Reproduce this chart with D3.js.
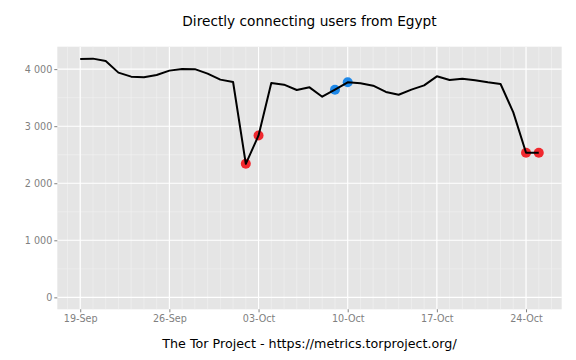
<!DOCTYPE html>
<html><head><meta charset="utf-8">
<script src="https://cdn.jsdelivr.net/npm/d3@7"></script>
<style>body{margin:0;background:#fff}svg{display:block}text{font-family:"DejaVu Sans",sans-serif}</style>
</head><body><div id="chart"></div>
<script>
const startDate = "2013-09-19";
const users = [4179,4184,4144,3939,3868,3856,3898,3974,4003,4000,3921,3816,3775,2341,2838,3758,3728,3634,3681,3517,3640,3769,3751,3710,3600,3552,3640,3716,3874,3810,3833,3804,3769,3740,3242,2534,2534];
const downturnDays = [13,14,35,36];
const upturnDays = [20,21];
const yTicks = [0,1000,2000,3000,4000];
const xTickDates = ["2013-09-19","2013-09-26","2013-10-03","2013-10-10","2013-10-17","2013-10-24"];
const xTickLabels = ["19-Sep","26-Sep","03-Oct","10-Oct","17-Oct","24-Oct"];
const title = "Directly connecting users from Egypt";
const caption = "The Tor Project - https://metrics.torproject.org/";

const W=576,H=360, L=57.3, R=561.7, T=46.7, B=309.3;
const parse = d3.utcParse("%Y-%m-%d");
const d0 = parse(startDate);
const dates = users.map((v,i)=>d3.utcDay.offset(d0,i));
const data = users.map((v,i)=>({date:dates[i],v}));
const span = dates[dates.length-1]-dates[0];
const x = d3.scaleUtc().domain([new Date(+dates[0]-span*0.05), new Date(+dates[dates.length-1]+span*0.05)]).range([L,R]);
const ymax = d3.max(users);
const y = d3.scaleLinear().domain([-ymax*0.05, ymax*1.05]).range([B,T]);

const svg = d3.select("#chart").append("svg").attr("width",W).attr("height",H);
svg.append("rect").attr("x",L).attr("y",T).attr("width",R-L).attr("height",B-T).attr("fill","#e5e5e5");
const g = svg.append("g");
// minor grid
const minorX = d3.utcDay.range(d3.utcDay.ceil(x.domain()[0]), x.domain()[1]);
g.selectAll(".mx").data(minorX).join("line").attr("x1",d=>x(d)).attr("x2",d=>x(d)).attr("y1",T).attr("y2",B).attr("stroke","#f2f2f2").attr("stroke-width",0.6);
const minorY = d3.range(-500, 4500, 500).filter(v=>v%1000!==0 && v>y.domain()[0] && v<y.domain()[1]);
g.selectAll(".my").data(minorY).join("line").attr("x1",L).attr("x2",R).attr("y1",d=>y(d)).attr("y2",d=>y(d)).attr("stroke","#f2f2f2").attr("stroke-width",0.6);
// major grid
const xt = xTickDates.map(parse);
g.selectAll(".gx").data(xt).join("line").attr("x1",d=>x(d)).attr("x2",d=>x(d)).attr("y1",T).attr("y2",B).attr("stroke","#fff").attr("stroke-width",1.1);
g.selectAll(".gy").data(yTicks).join("line").attr("x1",L).attr("x2",R).attr("y1",d=>y(d)).attr("y2",d=>y(d)).attr("stroke","#fff").attr("stroke-width",1.1);

// axes
const fmt = d => d3.format(",")(d).replace(/,/g," ");
const yAxis = svg.append("g").attr("transform",`translate(${L},0)`).call(d3.axisLeft(y).tickValues(yTicks).tickFormat(fmt).tickSize(3).tickPadding(2));
const xAxis = svg.append("g").attr("transform",`translate(0,${B})`).call(d3.axisBottom(x).tickValues(xt).tickFormat((d,i)=>xTickLabels[i]).tickSize(3).tickPadding(3));
[yAxis,xAxis].forEach(a=>{a.select(".domain").remove();a.selectAll("line").attr("stroke","#7f7f7f");a.selectAll("text").attr("fill","#7f7f7f").attr("font-size",9.6).attr("font-family","DejaVu Sans");});

// points then line on top
g.selectAll(".dn").data(downturnDays).join("circle").attr("cx",i=>x(dates[i])).attr("cy",i=>y(users[i])).attr("r",5).attr("fill","#f0282e");
g.selectAll(".up").data(upturnDays).join("circle").attr("cx",i=>x(dates[i])).attr("cy",i=>y(users[i])).attr("r",5).attr("fill","#1e88e8");
g.append("path").datum(data).attr("fill","none").attr("stroke","#000").attr("stroke-width",2)
 .attr("stroke-linejoin","round").attr("d",d3.line().x(d=>x(d.date)).y(d=>y(d.v)));
svg.append("text").attr("x",(L+R)/2).attr("y",26).attr("text-anchor","middle").attr("font-size",13.7).attr("fill","#000").text(title);
svg.append("text").attr("x",(L+R)/2).attr("y",348).attr("text-anchor","middle").attr("font-size",12.7).attr("fill","#000").text(caption);
</script></body></html>
